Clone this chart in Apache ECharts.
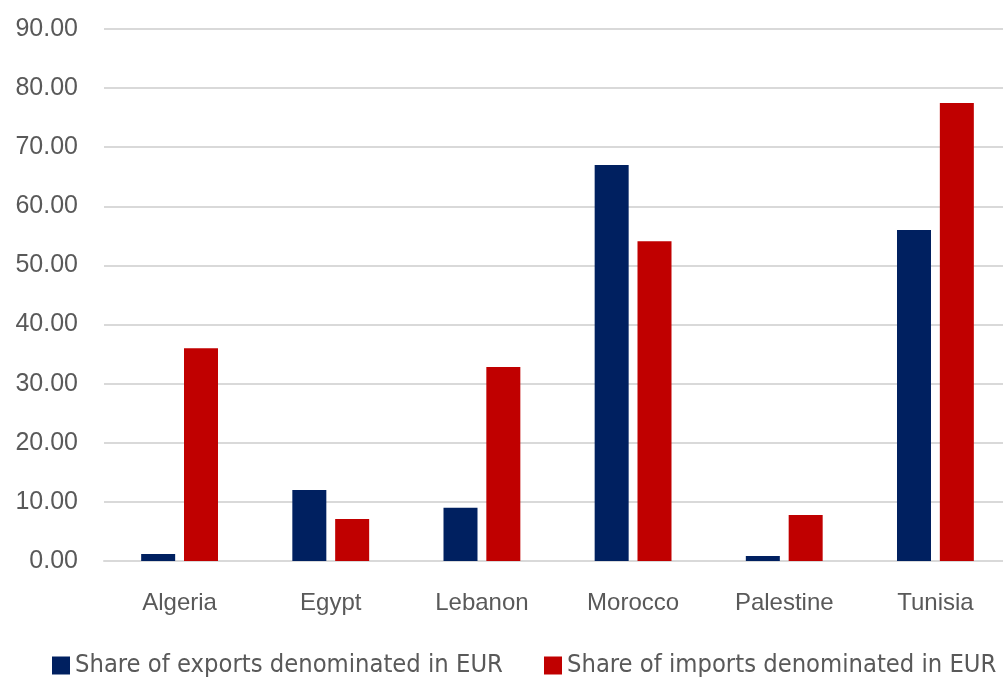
<!DOCTYPE html>
<html><head><meta charset="utf-8">
<script src="https://cdn.jsdelivr.net/npm/echarts@6/dist/echarts.min.js"></script>
<style>html,body{margin:0;padding:0;background:#fff}#c{width:1003px;height:678px}</style>
</head><body><div id="c"></div>
<script>
const categories = ['Algeria','Egypt','Lebanon','Morocco','Palestine','Tunisia'];
const exportsEUR = [1.2, 12.0, 9.0, 67.0, 0.85, 56.0];
const importsEUR = [36.0, 7.1, 32.8, 54.1, 7.8, 77.5];
const yTicks = {min:0, max:90, interval:10};
const seriesNames = ['Share of exports denominated in EUR','Share of imports denominated in EUR'];

const chart = echarts.init(document.getElementById('c'));
const font = 'Liberation Sans';
const legendBase = {
  top:653, itemWidth:18, itemHeight:18, icon:'rect', padding:0,
  textStyle:{fontFamily:'DejaVu Sans Condensed, Liberation Sans', fontSize:25.3, color:'#595959'}
};
chart.setOption({
  animation:false,
  grid:{left:104, width:907, top:29, bottom:117, outerBoundsMode:'none', containLabel:false},
  legend:[
    Object.assign({data:[seriesNames[0]], left:52}, legendBase),
    Object.assign({data:[seriesNames[1]], left:544}, legendBase)
  ],
  xAxis:{type:'category', data:categories,
    axisLine:{lineStyle:{color:'#d9d9d9', width:2}}, axisTick:{show:false},
    axisLabel:{fontFamily:font, fontSize:24, color:'#595959', margin:30}},
  yAxis:{type:'value', min:yTicks.min, max:yTicks.max, interval:yTicks.interval,
    axisLine:{show:false}, axisTick:{show:false},
    splitLine:{lineStyle:{color:'#d9d9d9', width:2}},
    axisLabel:{fontFamily:font, fontSize:25, color:'#595959', margin:26,
      formatter:v=>v.toFixed(2)}},
  series:[
    {name:seriesNames[0], type:'bar', data:exportsEUR, barWidth:34, barGap:'26%', itemStyle:{color:'#002060'}},
    {name:seriesNames[1], type:'bar', data:importsEUR, barWidth:34, barGap:'26%', itemStyle:{color:'#c00000'}}
  ]
});
</script></body></html>
